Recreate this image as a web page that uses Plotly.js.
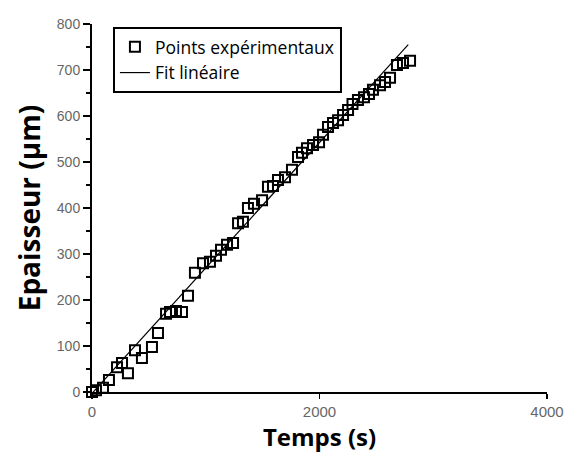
<!DOCTYPE html>
<html>
<head>
<meta charset="utf-8">
<script src="https://cdn.plot.ly/plotly-3.0.1.min.js"></script>
<style>html,body{margin:0;padding:0;background:#fff;}#chart{width:568px;height:453px;}</style>
</head>
<body>
<div id="chart"></div>
<script>
var tempsPoints = [0, 35, 97, 149, 220, 264, 316, 378, 439, 527, 580, 651, 686, 738, 791, 844, 905, 976, 1037, 1090, 1134, 1187, 1240, 1284, 1327, 1371, 1424, 1495, 1547, 1591, 1635, 1697, 1758, 1811, 1846, 1890, 1943, 1996, 2031, 2075, 2119, 2163, 2207, 2251, 2290, 2338, 2391, 2435, 2470, 2532, 2576, 2620, 2681, 2734, 2796];
var epaisseurPoints = [0, 4, 9, 26, 54, 63, 41, 91, 74, 98, 128, 170, 174, 176, 174, 209, 259, 280, 283, 296, 309, 320, 324, 367, 370, 400, 409, 417, 446, 448, 461, 467, 483, 511, 520, 530, 537, 543, 559, 576, 585, 591, 602, 613, 626, 635, 641, 648, 657, 667, 674, 683, 711, 715, 720];
// Linear fit endpoints
var tempsFit = [0, 2780];
var epaisseurFit = [-3, 755];

var xTickVals = [0, 2000, 4000];
var yTickVals = [0, 100, 200, 300, 400, 500, 600, 700, 800];

var traces = [
  {
    x: tempsPoints, y: epaisseurPoints, type: 'scatter', mode: 'markers',
    name: 'Points expérimentaux', legendgroup: 'a',
    marker: {symbol: 'square-open', size: 10, color: '#000', line: {width: 2, color: '#000'}},
    cliponaxis: false
  },
  {
    x: tempsFit, y: epaisseurFit, type: 'scatter', mode: 'lines',
    name: 'Fit linéaire', legendgroup: 'b',
    line: {color: '#000', width: 1.2},
    cliponaxis: false
  }
];

var layout = {
  width: 568, height: 453,
  margin: {l: 92, r: 21, t: 24, b: 61},
  paper_bgcolor: '#fff', plot_bgcolor: '#fff',
  showlegend: true,
  legend: {
    x: 0.046, y: 0.992, xanchor: 'left', yanchor: 'top',
    bgcolor: '#fff', bordercolor: '#000', borderwidth: 2,
    font: {family: 'Open Sans, sans-serif', size: 17.5, color: '#000'},
    tracegroupgap: 2, traceorder: 'normal'
  },
  xaxis: {
    range: [0, 4000], tickvals: xTickVals, ticktext: xTickVals.map(String),
    showgrid: false, zeroline: false, showline: true, linecolor: '#000', linewidth: 2,
    ticks: 'outside', ticklen: 5, tickwidth: 1.5, tickcolor: '#000',
    tickfont: {family: 'Liberation Sans, Arial, sans-serif', size: 15, color: '#666'},
    title: {text: 'Temps (s)', font: {family: 'Open Sans, sans-serif', size: 24, color: '#000', weight: 'bold'}, standoff: 6}
  },
  yaxis: {
    range: [0, 800], tickvals: yTickVals, ticktext: yTickVals.map(String),
    showgrid: false, zeroline: false, showline: true, linecolor: '#000', linewidth: 2,
    ticks: 'outside', ticklen: 7, tickwidth: 1.5, tickcolor: '#000',
    tickfont: {family: 'Liberation Sans, Arial, sans-serif', size: 14, color: '#666'},
    minor: {dtick: 50, tick0: 0, ticks: 'outside', ticklen: 4, tickwidth: 1.5, tickcolor: '#000', showgrid: false},
    title: {text: 'Epaisseur (µm)', font: {family: 'Open Sans, sans-serif', size: 28, color: '#000', weight: 'bold'}, standoff: 8}
  }
};

Plotly.newPlot('chart', traces, layout, {displayModeBar: false, staticPlot: true});
</script>
</body>
</html>
